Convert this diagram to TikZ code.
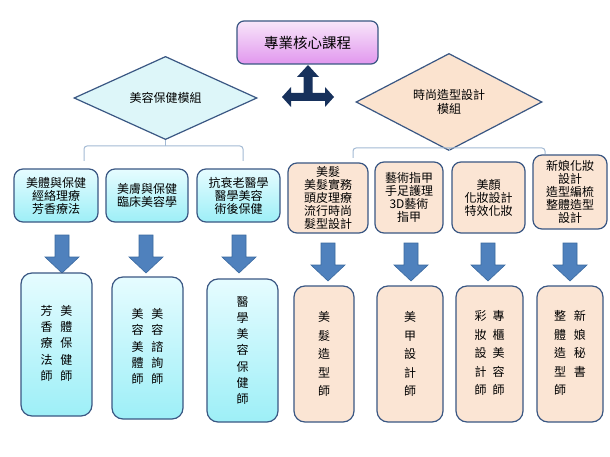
\documentclass[tikz,border=0pt]{standalone}
\usepackage{fontspec}
\newfontfamily\cjk{Noto Sans CJK TC}
\usetikzlibrary{shapes.geometric}
\definecolor{edge}{HTML}{3A5783}
\definecolor{pinkT}{HTML}{F8E6FA}
\definecolor{pinkB}{HTML}{E197EE}
\definecolor{cyanT}{HTML}{E6FCFF}
\definecolor{cyanB}{HTML}{9DEFF7}
\definecolor{cyanD}{HTML}{DDF6F9}
\definecolor{peach}{HTML}{FBE5D4}
\definecolor{peachD}{HTML}{FBE3CF}
\definecolor{navy}{HTML}{17315C}
\definecolor{blockblue}{HTML}{4F81BD}
\definecolor{blockedge}{HTML}{3B6AA0}
\definecolor{brk}{HTML}{A3BAD4}
\newcommand\blockarrow[3]{\filldraw[barrow] (#1-7,#2) -- (#1+7,#2) -- (#1+7,#3-16) -- (#1+17,#3-16) -- (#1,#3) -- (#1-17,#3-16) -- (#1-7,#3-16) -- cycle;}
\begin{document}
\begin{tikzpicture}[x=1pt,y=-1pt,
  toptitle/.style={draw=edge, line width=1.2pt, rounded corners=7pt, top color=pinkT, bottom color=pinkB, minimum width=141pt, minimum height=43pt, inner sep=0pt, font=\cjk\fontsize{14.5}{16}\selectfont},
  diam/.style={shape=diamond, draw=edge, line width=1.2pt, inner sep=0pt, align=center, font=\cjk\fontsize{12}{14}\selectfont},
  cyanbox/.style={draw=edge, line width=1.2pt, rounded corners=9pt, top color=cyanT, bottom color=cyanB, align=center, inner sep=0pt, font=\cjk\fontsize{12}{13}\selectfont},
  peachbox/.style={draw=edge, line width=1.2pt, rounded corners=9pt, fill=peach, align=center, inner sep=0pt, font=\cjk\fontsize{12}{13}\selectfont},
  tallcyan/.style={cyanbox, rounded corners=11pt, font=\cjk\fontsize{12}{16.3}\selectfont},
  tallpeach/.style={peachbox, rounded corners=11pt, font=\cjk\fontsize{12}{18.5}\selectfont},
  barrow/.style={fill=blockblue, draw=blockedge, line width=0.6pt},
  bracket/.style={draw=brk, line width=1pt, rounded corners=3pt}
]
\useasboundingbox (0,0) rectangle (610,457);
\fill[white] (0,0) rectangle (610,457);

% title
\node[toptitle] (title) at (307.5,42.5) {專業核心課程};

% three-way arrow
\fill[navy] (308,65) -- (319,77) -- (312.5,77) -- (312.5,93) -- (325,93) -- (325,87) -- (334,97) -- (325,107) -- (325,101) -- (291,101) -- (291,107) -- (282,97) -- (291,87) -- (291,93) -- (303.5,93) -- (303.5,77) -- (297,77) -- cycle;

% diamonds
\node[diam, fill=cyanD, minimum width=183pt, minimum height=68pt] (ldiam) at (165.5,98) {美容保健模組};
\node[diam, fill=peachD, minimum width=186pt, minimum height=68pt] (rdiam) at (449,102) {時尚造型設計\\模組};

% brackets
\coordinate (lbL) at (84,161);
\coordinate (lbM) at (165.5,146);
\coordinate (lbR) at (243,161);
\draw[bracket] (lbL) |- (lbM) -| (lbR);
\draw[bracket] (ldiam.south) -- (lbM);
\coordinate (rbL) at (353,158);
\coordinate (rbM) at (449,148);
\coordinate (rbR) at (545,154);
\draw[bracket] (rbL) |- (rbM) -| (rbR);
\draw[bracket] (rdiam.south) -- (rbM);

% row 1 boxes
\node[cyanbox, minimum width=84pt, minimum height=53pt] (a1) at (56,195.5) {美體與保健\\經絡理療\\芳香療法};
\node[cyanbox, minimum width=82pt, minimum height=53pt] (b1) at (147,195.5) {美膚與保健\\臨床美容學};
\node[cyanbox, minimum width=83pt, minimum height=53pt] (c1) at (238.5,195.5) {抗衰老醫學\\醫學美容\\術後保健};
\node[peachbox, minimum width=80pt, minimum height=70pt] (d1) at (328,198) {美髮\\美髮實務\\頭皮理療\\流行時尚\\髮型設計};
\node[peachbox, minimum width=68pt, minimum height=71pt] (e1) at (409,197.5) {藝術指甲\\手足護理\\3D藝術\\指甲};
\node[peachbox, minimum width=73pt, minimum height=71pt] (f1) at (488.5,197.5) {美顏\\化妝設計\\特效化妝};
\node[peachbox, minimum width=74pt, minimum height=74pt] (g1) at (570,192) {新娘化妝\\設計\\造型編梳\\整體造型\\設計};

% block arrows
\blockarrow{62}{235}{273}
\blockarrow{146}{235}{273}
\blockarrow{239}{235}{273}
\blockarrow{328}{243}{281}
\blockarrow{411}{243}{281}
\blockarrow{488}{243}{281}
\blockarrow{570}{243}{281}

% row 2 boxes
\node[tallcyan, minimum width=71pt, minimum height=143pt] (a2) at (56.5,344.5)
  {\begin{tabular}{@{}c@{\hspace{8pt}}c@{}}芳&美\\香&體\\療&保\\法&健\\師&師\end{tabular}};
\node[tallcyan, minimum width=71pt, minimum height=142pt] (b2) at (147.5,348)
  {\begin{tabular}{@{}c@{\hspace{8pt}}c@{}}美&美\\容&容\\美&諮\\體&詢\\師&師\end{tabular}};
\node[tallcyan, minimum width=71pt, minimum height=143pt] (c2) at (242.5,350.5)
  {醫\\學\\美\\容\\保\\健\\師};
\node[tallpeach, minimum width=60pt, minimum height=136pt] (d2) at (324,354)
  {美\\髮\\造\\型\\師};
\node[tallpeach, minimum width=66pt, minimum height=136pt] (e2) at (410,354)
  {美\\甲\\設\\計\\師};
\node[tallpeach, minimum width=67pt, minimum height=136pt] (f2) at (489.5,354)
  {\begin{tabular}{@{}c@{\hspace{6pt}}c@{}}彩&專\\妝&櫃\\設&美\\計&容\\師&師\end{tabular}};
\node[tallpeach, minimum width=66pt, minimum height=136pt] (g2) at (570,354)
  {\begin{tabular}{@{}c@{\hspace{8pt}}c@{}}整&新\\體&娘\\造&秘\\型&書\\師&\end{tabular}};
\end{tikzpicture}
\end{document}
